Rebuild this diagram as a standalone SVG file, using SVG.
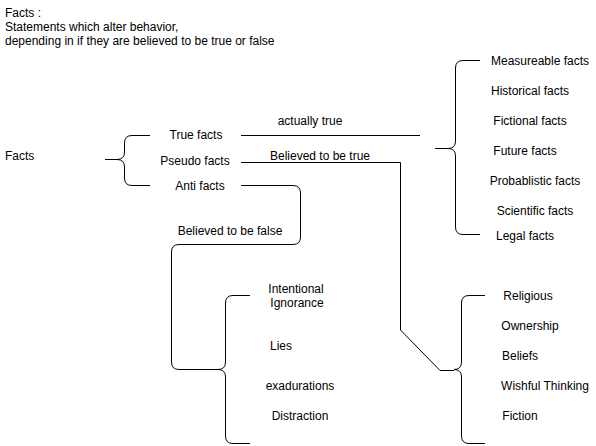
<svg xmlns="http://www.w3.org/2000/svg" width="596" height="446" viewBox="0 0 596 446">
<style>
text{font-family:"Liberation Sans",Arial,sans-serif;font-size:12px;fill:#000}
.c{text-anchor:middle}
.l{fill:none;stroke:#000;stroke-width:1}
</style>
<rect width="596" height="446" fill="#fff"/>
<g id="title">
<text x="5" y="17">Facts :</text>
<text x="5" y="31">Statements which alter behavior,</text>
<text x="5" y="45">depending in if they are believed to be true or false</text>
</g>
<g id="connectors">
<path class="l" d="M105,159.5 H118"/>
<path class="l" d="M241,135.5 H420"/>
<path class="l" d="M241,162.5 H400.5 V330 L440,370.5 H454"/>
<path class="l" d="M241,185.5 H293 Q300.5,185.5 300.5,193 V237 Q300.5,244.5 293,244.5 H179 Q171.5,244.5 171.5,252 V362 Q171.5,369.5 179,369.5 H218"/>
<path class="l" d="M435,148.5 H449"/>
<text class="c" x="310" y="125">actually true</text>
<text class="c" x="320" y="160">Believed to be true</text>
<text class="c" x="230" y="235">Believed to be false</text>
</g>
<g id="facts"><text x="5" y="160">Facts</text></g>
<g id="brace-main"><path class="l" d="M150,135.5 H132 Q124.5,135.5 124.5,143 V152 Q124.5,159.5 117,159.5 Q124.5,159.5 124.5,167 V178 Q124.5,185.5 132,185.5 H150"/></g>
<g id="true-facts"><text class="c" x="196" y="139">True facts</text></g>
<g id="pseudo-facts"><text class="c" x="195" y="165">Pseudo facts</text></g>
<g id="anti-facts"><text class="c" x="200" y="190">Anti facts</text></g>
<g id="brace-true"><path class="l" d="M480,60.5 H463 Q455.5,60.5 455.5,68 V141 Q455.5,148.5 448,148.5 Q455.5,148.5 455.5,156 V227 Q455.5,234.5 463,234.5 H480"/></g>
<g id="measureable"><text class="c" x="540" y="65">Measureable facts</text></g>
<g id="historical"><text class="c" x="530" y="95">Historical facts</text></g>
<g id="fictional"><text class="c" x="530" y="125">Fictional facts</text></g>
<g id="future"><text class="c" x="525" y="155">Future facts</text></g>
<g id="probablistic"><text class="c" x="535" y="185">Probablistic facts</text></g>
<g id="scientific"><text class="c" x="535" y="215">Scientific facts</text></g>
<g id="legal"><text class="c" x="525" y="240">Legal facts</text></g>
<g id="brace-anti"><path class="l" d="M250,295.5 H233 Q225.5,295.5 225.5,303 V362 Q225.5,369.5 218,369.5 Q225.5,369.5 225.5,377 V436 Q225.5,443.5 233,443.5 H250"/></g>
<g id="intentional"><text class="c" x="296" y="293">Intentional</text><text class="c" x="297" y="307">Ignorance</text></g>
<g id="lies"><text class="c" x="281" y="350">Lies</text></g>
<g id="exadurations"><text class="c" x="300" y="390">exadurations</text></g>
<g id="distraction"><text class="c" x="300" y="420">Distraction</text></g>
<g id="brace-pseudo"><path class="l" d="M485,295.5 H469 Q461.5,295.5 461.5,303 V362 Q461.5,369.5 454,369.5 Q461.5,369.5 461.5,377 V436 Q461.5,443.5 469,443.5 H485"/></g>
<g id="religious"><text class="c" x="528" y="300">Religious</text></g>
<g id="ownership"><text class="c" x="530" y="330">Ownership</text></g>
<g id="beliefs"><text class="c" x="520" y="360">Beliefs</text></g>
<g id="wishful"><text class="c" x="545" y="390">Wishful Thinking</text></g>
<g id="fiction"><text class="c" x="520" y="420">Fiction</text></g>
</svg>
